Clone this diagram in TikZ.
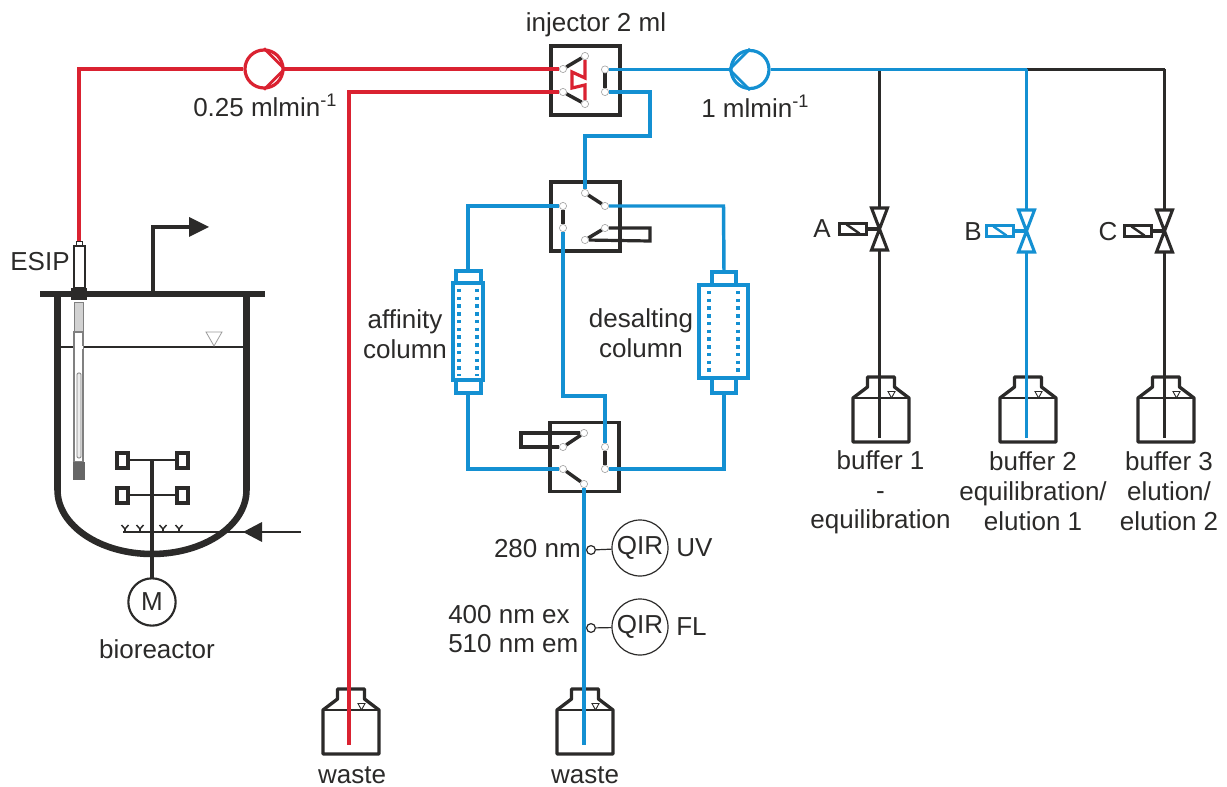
\documentclass[tikz,border=0pt]{standalone}
\usepackage{fontspec}
\setmainfont{Liberation Sans}
\pgfdeclarelayer{lines}
\pgfdeclarelayer{top}
\pgfsetlayers{main,lines,top}
\definecolor{cblue}{HTML}{1490D2}
\definecolor{cred}{HTML}{DA2231}
\definecolor{cdark}{HTML}{2B2A29}
\tikzset{
  lbl/.style={inner sep=0pt,text=cdark,font=\fontsize{19.5}{22.3}\selectfont,align=center},
  port/.style={circle,draw=gray!70,line width=.5pt,fill=white,inner sep=0pt,minimum size=5.4pt},
  sport/.style={circle,draw=cdark,line width=.9pt,fill=white,inner sep=0pt,minimum size=6.6pt},
  swbox/.style={draw=cdark,line width=2.7pt,inner sep=0pt,minimum width=51.5pt,minimum height=51.5pt},
  bluepipe/.style={draw=cblue,line width=2.6pt,line join=miter},
  redpipe/.style={draw=cred,line width=2.6pt,line join=miter},
  blackpipe/.style={draw=cdark,line width=2.4pt,line join=miter},
  arm/.style={draw=cdark,line width=2.6pt},
  pump/.style={circle,line width=2.4pt,fill=white,inner sep=0pt,minimum size=28.5pt},
  qir/.style={circle,draw=cdark,line width=.9pt,inner sep=0pt,minimum size=42pt,text=cdark,font=\fontsize{19.5}{22.3}\selectfont},
  bottle/.pic={
    \draw[cdark,line width=2.5pt,line join=round] (-13.5,0) -- (13.5,0) -- (13.5,10) -- (28,21) -- (28,65) -- (-28,65) -- (-28,21) -- (-13.5,10) -- cycle;
    \draw[cdark,line width=2.2pt] (-28,21) -- (28,21);
    \draw[cdark,line width=.7pt] (7,14.5) -- (14,14.5) -- (10.5,21) -- cycle;
  },
  valve/.pic={
    \draw[line width=2.3pt,line join=miter] (-8,-21) -- (8,-21) -- (-8,21) -- (8,21) -- cycle;
    \draw[line width=2.3pt] (-13,0) -- (0,0);
    \draw[line width=2.3pt] (-40,-5.5) rectangle (-13,5.5);
    \draw[line width=1.8pt] (-33,-4.5) -- (-20,4.5);
  }
}
\begin{document}
\begin{tikzpicture}[x=.75pt,y=-.75pt]
\useasboundingbox (0,0) rectangle (1227,787);

% ---- ports (top layer) ----
\begin{pgfonlayer}{top}
\node[port] (i1) at (563,69) {};
\node[port] (i2) at (563,92) {};
\node[port] (i3) at (585,56) {};
\node[port] (i4) at (585,104) {};
\node[port] (i5) at (605,69.5) {};
\node[port] (i6) at (605,92) {};
\node[port] (a1) at (585,193) {};
\node[port] (a2) at (605,206) {};
\node[port] (a3) at (563,206) {};
\node[port] (a4) at (563,228) {};
\node[port] (a5) at (605,228) {};
\node[port] (a6) at (585,240) {};
\node[port] (b1) at (584,433) {};
\node[port] (b2) at (563,447) {};
\node[port] (b3) at (605,447) {};
\node[port] (b4) at (605,469) {};
\node[port] (b5) at (563,469) {};
\node[port] (b6) at (584,484) {};
\node[sport] (s1) at (591,550) {};
\node[sport] (s2) at (591,628) {};
\end{pgfonlayer}

% ---- switching boxes ----
\node[swbox] (inj) at (585.5,80.5) {};
\node[swbox] (sw1) at (585.5,216.5) {};
\node[swbox] (sw2) at (584.5,457) {};

% ---- pumps ----
\node[pump,draw=cred] (pr) at (264,69) {};
\node[pump,draw=cblue] (pb) at (750,69.5) {};
\draw[cred,line width=2.2pt] (pr.north) -- (pr.east) -- (pr.south);
\draw[cblue,line width=2.2pt] (pb.north) -- (pb.west) -- (pb.south);

% ---- bottles ----
\path pic at (881,377) {bottle};
\path pic at (1028,377) {bottle};
\path pic at (1166,377) {bottle};
\path pic at (351,689) {bottle};
\path pic at (585,689) {bottle};
\coordinate (e1) at (879.5,438);
\coordinate (e2) at (1026.5,438);
\coordinate (e3) at (1164.5,438);
\coordinate (e4) at (349,745);
\coordinate (e5) at (584,745);

% ---- valves ----
\path pic[color=cdark] at (879.5,229) {valve};
\path pic[color=cblue] at (1026.5,231) {valve};
\path pic[color=cdark] at (1164.5,231) {valve};
\coordinate (v1t) at (879.5,208);
\coordinate (v1b) at (879.5,250);
\coordinate (v2t) at (1026.5,210);
\coordinate (v2b) at (1026.5,252);
\coordinate (v3t) at (1164.5,210);
\coordinate (v3b) at (1164.5,252);
\coordinate (j1) at (879.5,69.5);
\coordinate (j2) at (1026.5,69.5);
\coordinate (j3) at (1164.5,69.5);
\coordinate (esiptop) at (79,241);

% ---- columns ----
\draw[cblue,line width=2.6pt] (456,271) rectangle (481,283);
\draw[cblue,line width=2.6pt] (456,380) rectangle (481,393);
\draw[cblue,line width=2.6pt] (453,283) rectangle (483,380);
\draw[cblue,line width=2.6pt,dash pattern=on 2.6pt off 3.2pt] (459,289) -- (459,376);
\draw[cblue,line width=2.6pt,dash pattern=on 2.6pt off 3.2pt] (477,289) -- (477,376);
\coordinate (c1t) at (468,271);
\coordinate (c1b) at (468,393);
\draw[cblue,line width=2.6pt] (712,272) rectangle (736,285);
\draw[cblue,line width=2.6pt] (712,378) rectangle (736,393);
\draw[cblue,line width=2.6pt] (699,285) rectangle (748,378);
\draw[cblue,line width=2.6pt,dash pattern=on 2.6pt off 3.2pt] (709,291) -- (709,374);
\draw[cblue,line width=2.6pt,dash pattern=on 2.6pt off 3.2pt] (738,291) -- (738,374);
\coordinate (c2t) at (724,272);
\coordinate (c2b) at (724,393);

% ---- pipes ----
\begin{pgfonlayer}{lines}
\draw[redpipe] (esiptop) -- (79,69) -- (pr.west);
\draw[redpipe] (pr.east) -- (i1);
\draw[redpipe] (i2) -- (349,92) -- (e4);
\draw[redpipe,line width=2.4pt] (i3) -- (585,78) -- (572,72) -- (572,88) -- (585,85) -- (i4);
\draw[arm] (i1) -- (i3);
\draw[arm] (i2) -- (i4);
\draw[arm] (i5) -- (i6);
\draw[bluepipe] (i5) -- (pb.west);
\draw[blackpipe] (j2) -- (j3);
\draw[blackpipe] (j1) -- (v1t);
\draw[blackpipe] (v1b) -- (e1);
\draw[bluepipe] (pb.east) -- (j1) -- (j2);
\draw[bluepipe] (j2) -- (v2t);
\draw[bluepipe] (v2b) -- (e2);
\draw[blackpipe] (j3) -- (v3t);
\draw[blackpipe] (v3b) -- (e3);
\draw[bluepipe] (i6) -- (650,92) -- (650,136) -- (585,136) -- (a1);
\draw[arm] (a1) -- (a2);
\draw[arm] (a3) -- (a4);
\draw[arm] (a5) -- (a6);
\draw[blackpipe] (a5) -- (650,228) -- (650,241) -- (a6);
\draw[bluepipe] (a2) -- (723.5,206) -- (c2t);
\draw[bluepipe] (a3) -- (468,206) -- (c1t);
\draw[bluepipe] (a4) -- (563,396) -- (605,396) -- (b3);
\draw[arm] (b1) -- (b2);
\draw[arm] (b3) -- (b4);
\draw[arm] (b5) -- (b6);
\draw[blackpipe] (b1) -- (521,433) -- (521,447) -- (b2);
\draw[bluepipe] (b4) -- (724,469) -- (c2b);
\draw[bluepipe] (b5) -- (468,469) -- (c1b);
\draw[bluepipe] (b6) -- (e5);
\end{pgfonlayer}

% ---- detectors ----
\node[qir] (q1) at (640,548) {QIR};
\node[qir] (q2) at (640,627) {QIR};
\draw[cdark,line width=.9pt] (s1) -- (q1);
\draw[cdark,line width=.9pt] (s2) -- (q2);

% ---- bioreactor ----
\draw[cdark,line width=4.9pt] (57.5,294) -- (57.5,490) arc[start angle=180,end angle=0,x radius=94.5,y radius=64] -- (246.5,294);
\draw[cdark,line width=4.6pt] (40,294) -- (265,294);
\draw[cdark,line width=2pt] (61,347) -- (244,347);
\draw[gray!80,line width=.6pt] (206,332) -- (222,332) -- (214,346) -- cycle;
% gas outlet
\draw[cdark,line width=2.6pt] (153,294) -- (153,227) -- (190,227);
\fill[cdark] (209,227) -- (189,217) -- (189,237) -- cycle;
% ESIP probe
\draw[cdark,line width=.6pt,fill=white] (76,241) rectangle (82,246);
\draw[cdark,line width=2.2pt,fill=white] (74,246) rectangle (85,288);
\fill[cdark] (71,288) rectangle (87,300);
\draw[gray,line width=.7pt,fill=gray!35] (74,302) rectangle (83,332);
\draw[gray,line width=.8pt,fill=white] (74,332) rectangle (83,462);
\fill[white] (74.5,346) rectangle (82.5,349);
\draw[gray,line width=.7pt,fill=gray!15,rounded corners=1pt] (77,373) rectangle (81,458);
\fill[black!60] (73,462) rectangle (85,480);
% impeller
\draw[cdark,line width=2.4pt] (152,460) -- (152,578);
\draw[cdark,line width=2.2pt] (128,460) -- (177,460);
\draw[cdark,line width=2.2pt] (128,495) -- (177,495);
\draw[cdark,line width=2.4pt] (117,453) rectangle (128,468);
\draw[cdark,line width=2.4pt] (177,453) rectangle (188,468);
\draw[cdark,line width=2.4pt] (117,488) rectangle (128,503);
\draw[cdark,line width=2.4pt] (177,488) rectangle (188,503);
% sparger
\draw[cdark,line width=2pt] (123,532) -- (301,532);
\fill[cdark] (243,532) -- (262,522) -- (262,542) -- cycle;
\foreach \xx in {125,140,163,179}{
  \draw[cdark,line width=1.1pt] (\xx-3.5,525) -- (\xx,529) -- (\xx+3.5,525);
  \draw[cdark,line width=1.1pt] (\xx,529) -- (\xx,532);
}
\node[circle,draw=cdark,line width=1.6pt,fill=white,inner sep=0pt,minimum size=35.5pt,text=cdark,font=\fontsize{19.5}{22.3}\selectfont] (motor) at (152,602) {M};

% ---- labels ----
\node[lbl] (tinj) at (596,25) {injector 2 ml};
\node[lbl,anchor=west] (tpr) at (193,105) {0.25 mlmin\textsuperscript{-1}};
\node[lbl,anchor=west] (tpb) at (701,106) {1 mlmin\textsuperscript{-1}};
\node[lbl] (tesip) at (40,262) {ESIP};
\node[lbl] (tbio) at (157,649) {bioreactor};
\node[lbl] (taff) at (405,334) {affinity\\column};
\node[lbl] (tdes) at (641,333) {desalting\\column};
\node[lbl] (ta) at (822,229) {A};
\node[lbl] (tb) at (973,232) {B};
\node[lbl] (tc) at (1108,232) {C};
\node[lbl] (tb1) at (880.5,492.5) {buffer 1\\-\\equilibration};
\node[lbl] (tb2) at (1033,491) {buffer 2\\equilibration/\\elution 1};
\node[lbl] (tb3) at (1169,491) {buffer 3\\elution/\\elution 2};
\node[lbl,anchor=east] (t280) at (581,549) {280 nm};
\node[lbl,anchor=west,align=left] (t400) at (448,629) {400 nm ex\\510 nm em};
\node[lbl,anchor=west] (tuv) at (676,548) {UV};
\node[lbl,anchor=west] (tfl) at (676,627) {FL};
\node[lbl] (tw1) at (352,775) {waste};
\node[lbl] (tw2) at (585,775) {waste};
\end{tikzpicture}
\end{document}
